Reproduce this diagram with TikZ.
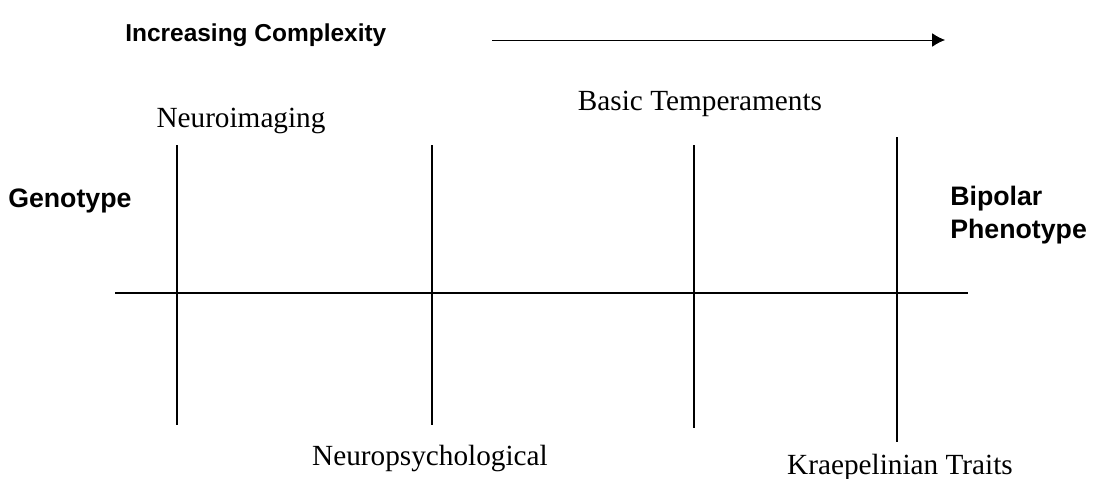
\documentclass[tikz,border=0pt]{standalone}
\usepackage{fontspec}
\setmainfont{Liberation Serif}
\setsansfont{Liberation Sans}
\usetikzlibrary{arrows.meta,positioning}

\begin{document}
\begin{tikzpicture}[x=0.025cm,y=-0.025cm,
  every node/.style={inner sep=0pt},
  lab/.style={font=\fontsize{20.8}{24}\selectfont},
  side/.style={font=\sffamily\bfseries\fontsize{19}{23}\selectfont,align=left},
  tick/.style={line width=1.3pt},
  axis/.style={line width=0.9pt},
  a/.style={-{Latex[length=3.2mm,width=3.4mm]},line width=0.6pt}
]
  \useasboundingbox (0,0) rectangle (1098,479);
  % heading and arrow
  \node[side,font=\sffamily\bfseries\fontsize{17.4}{21}\selectfont,anchor=west] (head) at (125,35) {Increasing Complexity};
  \coordinate (arrS) at (492,40);
  \coordinate (arrE) at (945,40);
  \draw[a] (arrS) -- (arrE);
  % ends of the chain
  \node[side,anchor=west] (geno) at (8,201) {Genotype};
  \node[side,anchor=west] (bipo) at (950,215) {Bipolar\\Phenotype};
  \coordinate (axL) at (115,293);
  \coordinate (axR) at (968,293);
  \draw[axis] (axL) -- (axR);
  % levels
  \node[lab] (img) at (241,121) {Neuroimaging};
  \node[lab] (psy) at (430,459) {Neuropsychological};
  \node[lab] (tmp) at (700,104) {Basic Temperaments};
  \node[lab] (kra) at (900,467) {Kraepelinian Traits};
  \coordinate (t1a) at (177,145); \coordinate (t1b) at (177,425);
  \coordinate (t2a) at (432,145); \coordinate (t2b) at (432,425);
  \coordinate (t3a) at (694,145); \coordinate (t3b) at (694,428);
  \coordinate (t4a) at (897,137); \coordinate (t4b) at (897,442);
  \draw[tick] (t1a) -- (t1b);
  \draw[tick] (t2a) -- (t2b);
  \draw[tick] (t3a) -- (t3b);
  \draw[tick] (t4a) -- (t4b);
\end{tikzpicture}
\end{document}
